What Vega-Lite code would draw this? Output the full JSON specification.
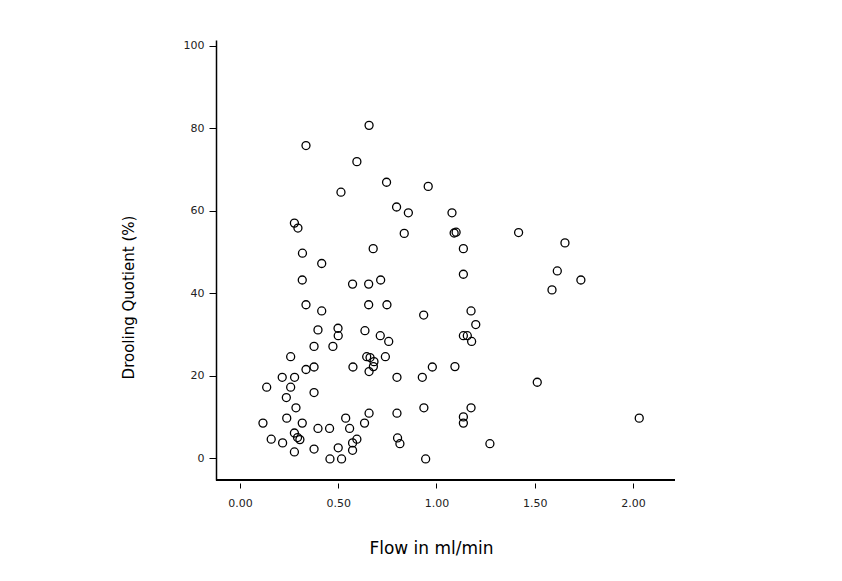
{
  "$schema": "https://vega.github.io/schema/vega-lite/v6.json",
  "autosize": "none",
  "width": 459,
  "height": 440,
  "padding": {"left": 216, "top": 40, "right": 167, "bottom": 101},
  "background": "white",
  "config": {"view": {"stroke": null}},
  "data": {"values": [
    {"flow": 0.657, "dq": 80.7}, {"flow": 0.336, "dq": 75.8}, {"flow": 0.595, "dq": 71.9},
    {"flow": 0.746, "dq": 66.9}, {"flow": 0.958, "dq": 65.9}, {"flow": 0.514, "dq": 64.5},
    {"flow": 0.797, "dq": 60.9}, {"flow": 0.857, "dq": 59.5}, {"flow": 1.079, "dq": 59.5},
    {"flow": 0.277, "dq": 57.0}, {"flow": 0.295, "dq": 55.8}, {"flow": 0.836, "dq": 54.5},
    {"flow": 1.090, "dq": 54.6}, {"flow": 1.100, "dq": 54.8}, {"flow": 0.318, "dq": 49.7},
    {"flow": 0.678, "dq": 50.8}, {"flow": 1.137, "dq": 50.8}, {"flow": 1.418, "dq": 54.7},
    {"flow": 1.654, "dq": 52.2}, {"flow": 0.416, "dq": 47.2}, {"flow": 1.137, "dq": 44.6},
    {"flow": 1.615, "dq": 45.4}, {"flow": 1.735, "dq": 43.2}, {"flow": 1.588, "dq": 40.8},
    {"flow": 0.317, "dq": 43.2}, {"flow": 0.573, "dq": 42.2}, {"flow": 0.655, "dq": 42.2},
    {"flow": 0.716, "dq": 43.2}, {"flow": 0.336, "dq": 37.2}, {"flow": 0.655, "dq": 37.2},
    {"flow": 0.748, "dq": 37.2}, {"flow": 0.416, "dq": 35.7}, {"flow": 0.935, "dq": 34.7},
    {"flow": 1.176, "dq": 35.7}, {"flow": 1.200, "dq": 32.4}, {"flow": 0.397, "dq": 31.1},
    {"flow": 0.499, "dq": 31.5}, {"flow": 0.500, "dq": 29.7}, {"flow": 0.636, "dq": 30.9},
    {"flow": 0.714, "dq": 29.7}, {"flow": 0.757, "dq": 28.3}, {"flow": 1.137, "dq": 29.7},
    {"flow": 1.157, "dq": 29.7}, {"flow": 1.179, "dq": 28.3}, {"flow": 0.377, "dq": 27.1},
    {"flow": 0.473, "dq": 27.1}, {"flow": 0.258, "dq": 24.6}, {"flow": 0.645, "dq": 24.6},
    {"flow": 0.662, "dq": 24.4}, {"flow": 0.682, "dq": 23.4}, {"flow": 0.679, "dq": 22.2},
    {"flow": 0.740, "dq": 24.6}, {"flow": 0.657, "dq": 21.0}, {"flow": 0.336, "dq": 21.5},
    {"flow": 0.377, "dq": 22.1}, {"flow": 0.575, "dq": 22.1}, {"flow": 0.979, "dq": 22.1},
    {"flow": 1.094, "dq": 22.2}, {"flow": 0.215, "dq": 19.6}, {"flow": 0.278, "dq": 19.6},
    {"flow": 0.799, "dq": 19.6}, {"flow": 0.928, "dq": 19.6}, {"flow": 1.513, "dq": 18.4},
    {"flow": 0.136, "dq": 17.2}, {"flow": 0.258, "dq": 17.2}, {"flow": 0.236, "dq": 14.7},
    {"flow": 0.377, "dq": 15.9}, {"flow": 0.285, "dq": 12.2}, {"flow": 0.936, "dq": 12.2},
    {"flow": 1.176, "dq": 12.2}, {"flow": 0.657, "dq": 10.9}, {"flow": 0.799, "dq": 10.9},
    {"flow": 1.137, "dq": 10.0}, {"flow": 1.137, "dq": 8.5}, {"flow": 2.032, "dq": 9.7},
    {"flow": 0.117, "dq": 8.5}, {"flow": 0.238, "dq": 9.7}, {"flow": 0.317, "dq": 8.5},
    {"flow": 0.397, "dq": 7.2}, {"flow": 0.456, "dq": 7.2}, {"flow": 0.538, "dq": 9.7},
    {"flow": 0.558, "dq": 7.2}, {"flow": 0.634, "dq": 8.5}, {"flow": 0.159, "dq": 4.6},
    {"flow": 0.217, "dq": 3.7}, {"flow": 0.277, "dq": 6.1}, {"flow": 0.293, "dq": 5.0},
    {"flow": 0.305, "dq": 4.5}, {"flow": 0.277, "dq": 1.5}, {"flow": 0.377, "dq": 2.2},
    {"flow": 0.458, "dq": -0.2}, {"flow": 0.517, "dq": -0.2}, {"flow": 0.500, "dq": 2.5},
    {"flow": 0.573, "dq": 3.7}, {"flow": 0.595, "dq": 4.6}, {"flow": 0.573, "dq": 1.9},
    {"flow": 0.802, "dq": 4.9}, {"flow": 0.814, "dq": 3.5}, {"flow": 0.945, "dq": -0.2},
    {"flow": 1.272, "dq": 3.5}
  ]},
  "layer": [
    {
      "mark": {"type": "rule", "color": "black", "strokeWidth": 1.5},
      "encoding": {
        "y": {"datum": -5.3, "type": "quantitative", "scale": {"domain": [-5.3, 101.4], "nice": false, "zero": false}}
      }
    },
    {
      "mark": {"type": "point", "shape": "circle", "filled": false, "color": "black", "size": 64, "strokeWidth": 1.3, "opacity": 1},
      "encoding": {
        "x": {
          "field": "flow", "type": "quantitative",
          "scale": {"domain": [-0.122, 2.214], "nice": false, "zero": false},
          "axis": {
            "title": "Flow in ml/min",
            "values": [0, 0.5, 1, 1.5, 2],
            "format": ".2f",
            "grid": false,
            "domain": false,
            "offset": 3,
            "tickSize": 5,
            "tickColor": "black",
            "tickWidth": 1,
            "labelFont": "DejaVu Sans",
            "labelFontSize": 11,
            "labelColor": "#222222",
            "labelPadding": 9,
            "titleFont": "DejaVu Sans",
            "titleFontSize": 17,
            "titleFontWeight": "normal",
            "titleColor": "black",
            "titleX": 215,
            "titleY": 70,
            "titleBaseline": "alphabetic",
            "titleAlign": "center"
          }
        },
        "y": {
          "field": "dq", "type": "quantitative",
          "scale": {"domain": [-5.3, 101.4], "nice": false, "zero": false},
          "axis": {
            "title": "Drooling Quotient (%)",
            "values": [0, 20, 40, 60, 80, 100],
            "grid": false,
            "domain": true,
            "domainColor": "black",
            "domainWidth": 1.5,
            "tickSize": 7,
            "tickColor": "black",
            "tickWidth": 1,
            "labelFont": "DejaVu Sans",
            "labelFontSize": 11,
            "labelColor": "#222222",
            "labelPadding": 5,
            "titleFont": "DejaVu Sans",
            "titleFontSize": 15,
            "titleFontWeight": "normal",
            "titleColor": "black",
            "titleX": -83,
            "titleY": 257,
            "titleAngle": 270,
            "titleBaseline": "alphabetic",
            "titleAlign": "center"
          }
        }
      }
    }
  ]
}
